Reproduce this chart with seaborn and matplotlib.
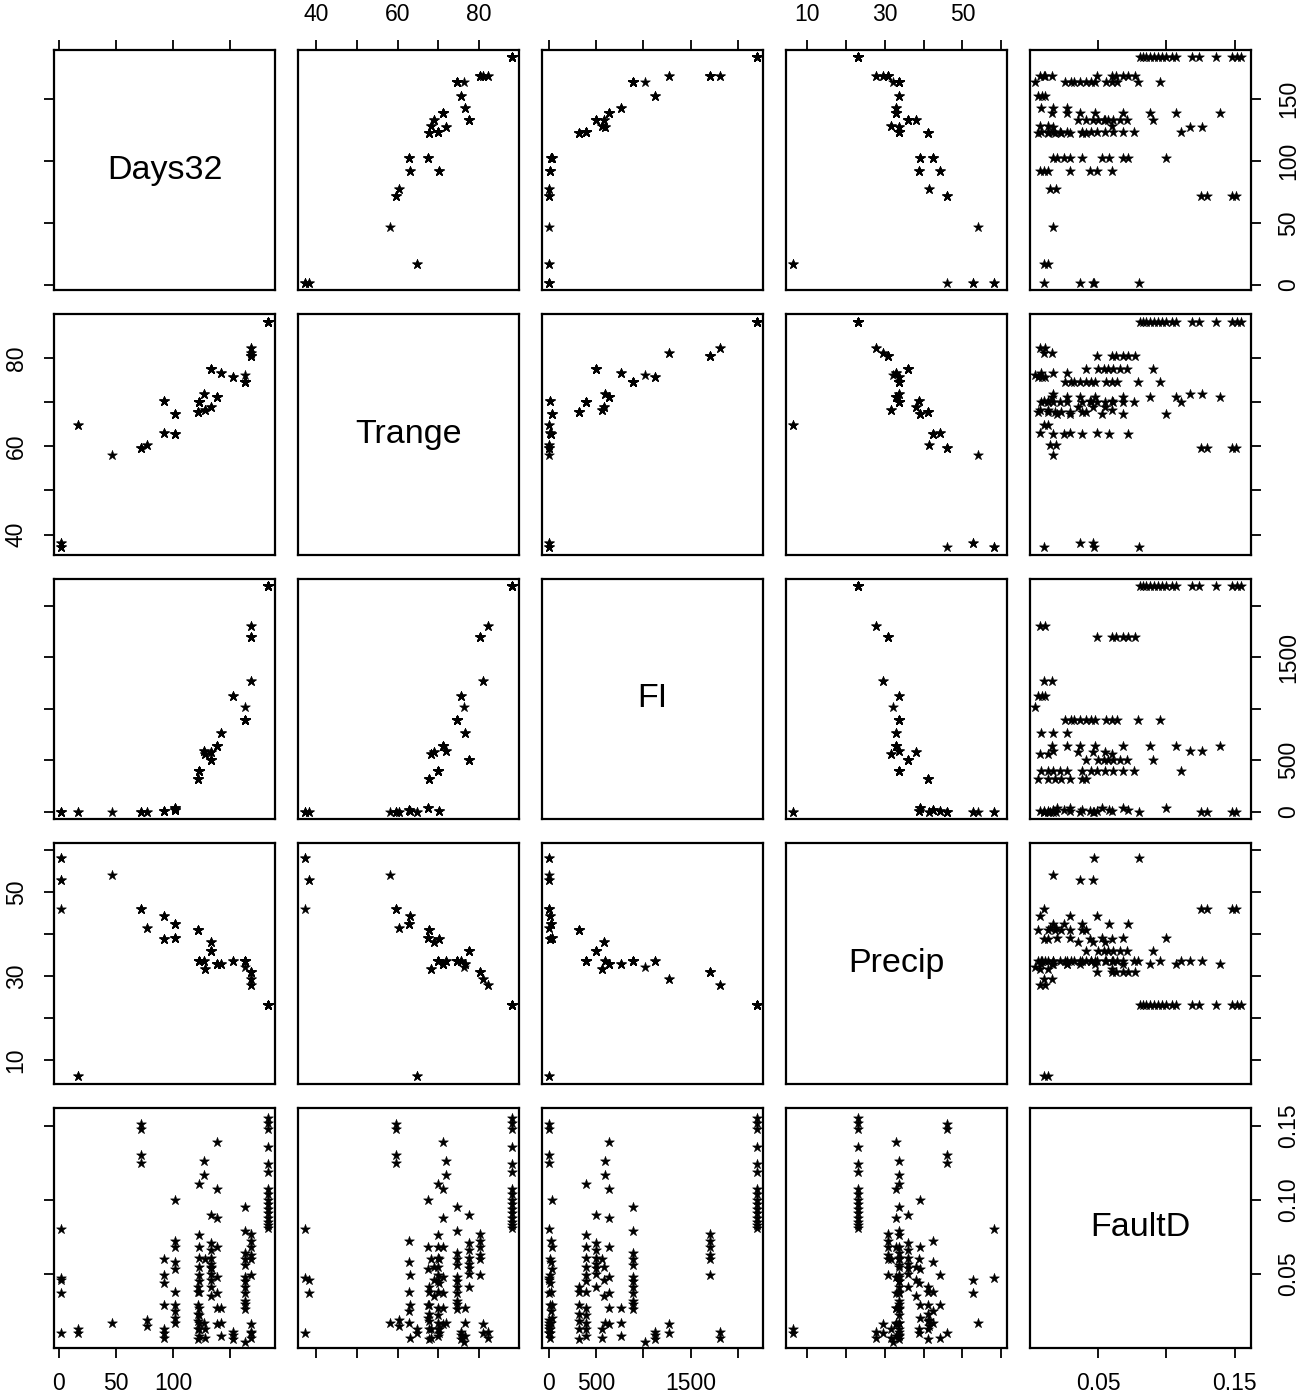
import numpy as np
import pandas as pd
import matplotlib
matplotlib.use("Agg")
import matplotlib.pyplot as plt
import seaborn as sns
from matplotlib.ticker import FixedLocator, FixedFormatter

variables = ["Days32", "Trange", "FI", "Precip", "FaultD"]

# ---- site-level values (one entry per site) ----
site_days32 = [183, 168, 168, 168, 163, 163, 152, 142, 133, 138, 133, 128, 127,
               122, 123, 102, 102, 92, 92, 77, 72, 47, 17, 2, 2, 2]
site_trange = [88.0, 82.3, 80.3, 81.0, 76.2, 74.5, 75.6, 76.6, 77.4, 71.1, 68.8,
               68.3, 71.9, 67.8, 70.0, 62.7, 67.4, 62.9, 70.2, 60.2, 59.5, 58.1,
               64.7, 37.1, 38.2, 37.3]
site_fi = [2195, 1805, 1699, 1273, 1014, 890, 1120, 766, 500, 635, 582, 560, 590,
           316, 394, 20, 40, 10, 10, 0, 0, 0, 0, 0, 0, 0]
site_precip = [23.1, 27.8, 30.9, 29.4, 32.2, 33.6, 33.6, 32.8, 36.0, 32.8, 38.0,
               31.6, 33.7, 41.0, 33.7, 42.4, 39.0, 44.2, 38.7, 41.4, 46.0, 54.0,
               6.2, 46.0, 52.8, 58.1]
# fault density observations at each site
site_faultd = [
    [0.081, 0.083, 0.085, 0.088, 0.091, 0.094, 0.097, 0.100, 0.104, 0.107,
     0.119, 0.124, 0.136, 0.148, 0.152, 0.155],
    [0.007, 0.011],
    [0.049, 0.060, 0.063, 0.068, 0.072, 0.077],
    [0.010, 0.016],
    [0.004],
    [0.026, 0.030, 0.032, 0.037, 0.041, 0.045, 0.048, 0.056, 0.060, 0.064, 0.079, 0.095],
    [0.006, 0.009, 0.011],
    [0.008, 0.017, 0.027],
    [0.041, 0.050, 0.054, 0.057, 0.061, 0.066, 0.071, 0.090],
    [0.016, 0.027, 0.037, 0.048, 0.068, 0.088, 0.107, 0.139],
    [0.035, 0.046, 0.055],
    [0.007, 0.013, 0.060],
    [0.017, 0.117, 0.126],
    [0.006, 0.013, 0.018, 0.023, 0.029, 0.038, 0.041],
    [0.008, 0.013, 0.017, 0.022, 0.027, 0.038, 0.045, 0.049, 0.055, 0.061, 0.068, 0.076, 0.111],
    [0.017, 0.025, 0.038, 0.058, 0.072],
    [0.020, 0.029, 0.053, 0.068, 0.100],
    [0.007, 0.029, 0.049],
    [0.010, 0.013, 0.044, 0.060],
    [0.015, 0.019],
    [0.125, 0.130, 0.148, 0.151],
    [0.017],
    [0.010, 0.013],
    [0.010],
    [0.037, 0.046],
    [0.047, 0.080],
]

# ---- axis ticks and tick labels ----
tick_values = {
    "Days32": [0, 50, 100, 150],
    "Trange": [40, 50, 60, 70, 80],
    "FI": [0, 500, 1000, 1500, 2000],
    "Precip": [10, 20, 30, 40, 50, 60],
    "FaultD": [0.05, 0.10, 0.15],
}
xtick_text = {
    "Days32": ["0", "50", "100", ""],
    "Trange": ["40", "", "60", "", "80"],
    "FI": ["0", "500", "", "1500", ""],
    "Precip": ["10", "", "30", "", "50", ""],
    "FaultD": ["0.05", "", "0.15"],
}
ytick_text = {
    "Days32": ["0", "50", "100", "150"],
    "Trange": ["40", "", "60", "", "80"],
    "FI": ["0", "500", "", "1500", ""],
    "Precip": ["10", "", "30", "", "50", ""],
    "FaultD": ["0.05", "0.10", "0.15"],
}
limits = {
    "Days32": (-4, 189),
    "Trange": (35.5, 89.8),
    "FI": (-70, 2260),
    "Precip": (4.5, 61.5),
    "FaultD": (0.0, 0.162),
}

rows = []
for d, t, f, p, fl in zip(site_days32, site_trange, site_fi, site_precip, site_faultd):
    for v in fl:
        rows.append((d, t, f, p, v))
df = pd.DataFrame(rows, columns=variables)

sns.set_style("ticks", {"axes.edgecolor": "black", "xtick.color": "black",
                        "ytick.color": "black", "text.color": "black",
                        "axes.labelcolor": "black"})
plt.rcParams["font.family"] = ["Liberation Sans", "DejaVu Sans"]
plt.rcParams["ytick.alignment"] = "center"

g = sns.PairGrid(df, vars=variables, height=2.4, aspect=1.0, despine=False)
g.map_offdiag(sns.scatterplot, marker="*", s=55, color="black",
              edgecolor="black", linewidth=0.4)

fig = g.figure
fig.set_size_inches(13.13, 13.94)
fig.subplots_adjust(left=54 / 1313, right=1251 / 1313, top=1 - 50 / 1394,
                    bottom=1 - 1348 / 1394, wspace=0.104, hspace=0.102)

n = len(variables)
for j, var in enumerate(variables):
    ax = g.axes[0, j]
    ax.set_xlim(*limits[var])
    ax.xaxis.set_major_locator(FixedLocator(tick_values[var]))
    ax.xaxis.set_major_formatter(FixedFormatter(xtick_text[var]))
for i, var in enumerate(variables):
    ax = g.axes[i, 0]
    ax.set_ylim(*limits[var])
    ax.yaxis.set_major_locator(FixedLocator(tick_values[var]))
    ax.yaxis.set_major_formatter(FixedFormatter(ytick_text[var]))

for i in range(n):
    for j in range(n):
        ax = g.axes[i, j]
        ax.set_xlabel("")
        ax.set_ylabel("")
        for sp in ax.spines.values():
            sp.set_linewidth(1.6)
            sp.set_color("black")
        ax.tick_params(axis="x", which="both", direction="out", length=7, width=1.3,
                       labelsize=16.5, pad=10,
                       top=(i == 0), bottom=(i == n - 1),
                       labeltop=(i == 0 and j % 2 == 1),
                       labelbottom=(i == n - 1 and j % 2 == 0))
        ax.tick_params(axis="y", which="both", direction="out", length=7, width=1.3,
                       labelsize=16.5, pad=12, labelrotation=90,
                       left=(j == 0), right=(j == n - 1),
                       labelleft=(j == 0 and i % 2 == 1),
                       labelright=(j == n - 1 and i % 2 == 0))
        if i == j:
            ax.text(0.5, 0.5, variables[i], transform=ax.transAxes,
                    ha="center", va="center", fontsize=24.5)

fig.savefig("out.png", dpi=100)
